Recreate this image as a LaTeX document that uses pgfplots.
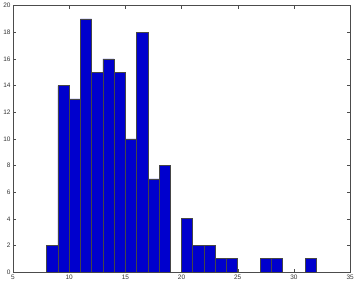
\documentclass[border=0pt]{standalone}
\usepackage{fontspec}
\setmainfont{Liberation Sans}
\usepackage{pgfplots}
\pgfplotsset{compat=1.18}
\definecolor{histblue}{RGB}{0,0,205}
\definecolor{edgegray}{RGB}{70,70,70}
\begin{document}
\begin{tikzpicture}
  \begin{axis}[
    scale only axis,
    width=339pt, height=268pt,
    xmin=5, xmax=35, ymin=0, ymax=20,
    xtick={5,10,...,35},
    ytick={0,2,...,20},
    tick align=inside,
    major tick length=3pt,
    tick style={black!70, line width=0.4pt},
    axis line style={black!70, line width=0.5pt},
    ticklabel style={font=\fontsize{6.5}{7}\selectfont, text=black!80},
    /pgf/number format/assume math mode=true,
    xticklabel style={yshift=1pt},
    yticklabel style={xshift=1pt},
  ]
    \addplot[ybar, bar width=1, bar shift=0, fill=histblue, draw=edgegray, line width=0.6pt]
      coordinates {
        (8.5,2) (9.5,14) (10.5,13) (11.5,19) (12.5,15) (13.5,16)
        (14.5,15) (15.5,10) (16.5,18) (17.5,7) (18.5,8)
        (20.5,4) (21.5,2) (22.5,2) (23.5,1) (24.5,1)
        (27.5,1) (28.5,1) (31.5,1)
      };
  \end{axis}
\end{tikzpicture}
\end{document}
